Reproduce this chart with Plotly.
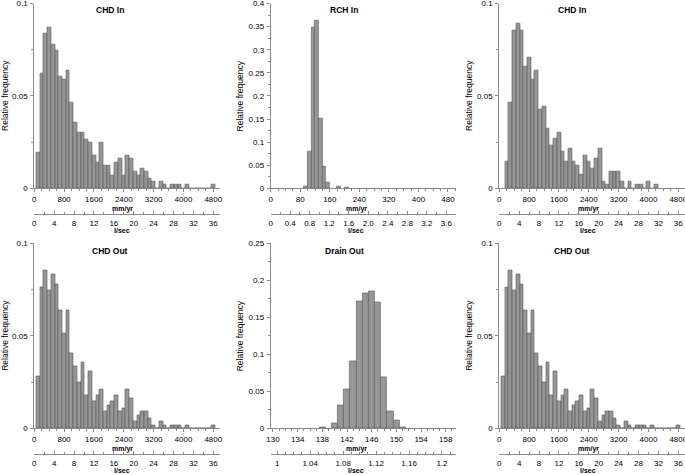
import plotly.graph_objects as go

W, H = 685, 475

# ---------------- DATA ----------------
# CHD In (left panel) : bins of 100 mm/yr, centres 100..4800
chd_in_a_bins = list(range(100, 4900, 100))
chd_in_a_freq = [0.0195, 0.0623, 0.0836, 0.0869, 0.0780, 0.0746, 0.0606, 0.0588, 0.0638, 0.0463,
                 0.0355, 0.0300, 0.0300, 0.0266, 0.0248, 0.0177, 0.0140, 0.0248, 0.0125, 0.0125,
                 0.0071, 0.0140, 0.0160, 0.0071, 0.0178, 0.0160, 0.0089, 0.0071, 0.0107, 0.0089,
                 0.0053, 0.0036, 0.0, 0.0036, 0.0018, 0.0, 0.0018, 0.0018, 0.0018, 0.0,
                 0.0018, 0.0, 0.0, 0.0, 0.0, 0.0, 0.0, 0.0018]

# RCH In : bins of 10 mm/yr
rch_in_bins = [95, 105, 115, 125, 135, 145, 155, 185, 205]
rch_in_freq = [0.0036, 0.0796, 0.348, 0.363, 0.1505, 0.0463, 0.0116, 0.0036, 0.0018]

# CHD In (right panel) : centres 200..4200
chd_in_b_bins = list(range(200, 4300, 100))
chd_in_b_freq = [0.0144, 0.0464, 0.0854, 0.0890, 0.0854, 0.0660, 0.0710, 0.0588, 0.0640, 0.0428,
                 0.0444, 0.0324, 0.0234, 0.0270, 0.0300, 0.0198, 0.0144, 0.0216, 0.0144, 0.0126,
                 0.0072, 0.0180, 0.0144, 0.0108, 0.0162, 0.0216, 0.0036, 0.0018, 0.0090, 0.0090,
                 0.0090, 0.0036, 0.0, 0.0036, 0.0, 0.0018, 0.0018, 0.0, 0.0036, 0.0, 0.0018]

# CHD Out (left and right panels) : centres 100..4800
chd_out_bins = list(range(100, 4900, 100))
chd_out_freq = [0.0283, 0.0764, 0.0854, 0.0747, 0.0834, 0.0780, 0.0639, 0.0513, 0.0639, 0.0407,
                0.0337, 0.0250, 0.0355, 0.0179, 0.0306, 0.0144, 0.0179, 0.0213, 0.0090, 0.0126,
                0.0144, 0.0179, 0.0090, 0.0108, 0.0213, 0.0161, 0.0036, 0.0072, 0.0090, 0.0090,
                0.0054, 0.0018, 0.0, 0.0036, 0.0018, 0.0, 0.0018, 0.0018, 0.0018, 0.0,
                0.0018, 0.0, 0.0, 0.0, 0.0, 0.0, 0.0, 0.0018]

# Drain Out : bins of 1 mm/yr
drain_out_bins = [138, 140, 141, 142, 143, 144, 145, 146, 147, 148, 149, 150, 151]
drain_out_freq = [0.0014, 0.0068, 0.0315, 0.053, 0.0905, 0.172, 0.1824, 0.1847, 0.1707,
                  0.069, 0.0234, 0.0104, 0.0018]

# tick labels
chd_mm_ticks = [0, 800, 1600, 2400, 3200, 4000, 4800]
chd_ls_ticks = [0, 4, 8, 12, 16, 20, 24, 28, 32, 36]
rch_mm_ticks = [0, 80, 160, 240, 320, 400, 480]
rch_ls_ticks = [0, 0.4, 0.8, 1.2, 1.6, 2.0, 2.4, 2.8, 3.2, 3.6]
rch_ls_labels = ["0", "0.4", "0.8", "1.2", "1.6", "2.0", "2.4", "2.8", "3.2", "3.6"]
drain_mm_ticks = [130, 134, 138, 142, 146, 150, 154, 158]
drain_ls_ticks = [1, 1.04, 1.08, 1.12, 1.16, 1.2]
drain_ls_labels = ["1", "1.04", "1.08", "1.12", "1.16", "1.2"]
y_ticks_01 = [0, 0.05, 0.1]
y_ticks_04 = [0, 0.05, 0.1, 0.15, 0.2, 0.25, 0.3, 0.35, 0.4]
y_ticks_025 = [0, 0.05, 0.1, 0.15, 0.2, 0.25]

# ---------------- LAYOUT HELPERS ----------------
def pxx(x):
    return x / W

def pxy(y):
    return 1 - y / H

FONT = "Liberation Sans, Arial, sans-serif"
AXC = "#8a8a8a"
BAR_FILL = "#979797"
BAR_LINE = "#555555"

panels = [
    dict(title="CHD In", bins=chd_in_a_bins, freq=chd_in_a_freq, bw=100,
         x0=34.3, x1=219.5, top=3.5, base=188.3,
         mm_range=[0, 4966], mm_ticks=chd_mm_ticks, mm_minor=200,
         ls_range=[0, 37.25], ls_ticks=chd_ls_ticks, ls_labels=[str(v) for v in chd_ls_ticks], ls_minor=2,
         y_range=[0, 0.1], y_ticks=y_ticks_01, y_minor=0.025,
         tx=110, ytx=5, ux=122),
    dict(title="RCH In", bins=rch_in_bins, freq=rch_in_freq, bw=10,
         x0=270.7, x1=456.3, top=3.5, base=188.3,
         mm_range=[0, 502.5], mm_ticks=rch_mm_ticks, mm_minor=20,
         ls_range=[0, 3.805], ls_ticks=rch_ls_ticks, ls_labels=rch_ls_labels, ls_minor=0.2,
         y_range=[0, 0.4], y_ticks=y_ticks_04, y_minor=0.025,
         tx=344, ytx=239.5, ux=356),
    dict(title="CHD In", bins=chd_in_b_bins, freq=chd_in_b_freq, bw=100,
         x0=499.3, x1=684.5, top=3.5, base=188.3,
         mm_range=[0, 4966], mm_ticks=chd_mm_ticks, mm_minor=200,
         ls_range=[0, 37.25], ls_ticks=chd_ls_ticks, ls_labels=[str(v) for v in chd_ls_ticks], ls_minor=2,
         y_range=[0, 0.1], y_ticks=y_ticks_01, y_minor=0.025,
         tx=572, ytx=469, ux=588),
    dict(title="CHD Out", bins=chd_out_bins, freq=chd_out_freq, bw=100,
         x0=34.3, x1=219.5, top=243.3, base=428.3,
         mm_range=[0, 4966], mm_ticks=chd_mm_ticks, mm_minor=200,
         ls_range=[0, 37.25], ls_ticks=chd_ls_ticks, ls_labels=[str(v) for v in chd_ls_ticks], ls_minor=2,
         y_range=[0, 0.1], y_ticks=y_ticks_01, y_minor=0.025,
         tx=110, ytx=5, ux=122),
    dict(title="Drain Out", bins=drain_out_bins, freq=drain_out_freq, bw=1,
         x0=270.7, x1=456.3, top=243.3, base=428.3,
         mm_range=[129.63, 159.71], mm_ticks=drain_mm_ticks, mm_minor=1,
         ls_range=[0.992, 1.2174], ls_ticks=drain_ls_ticks, ls_labels=drain_ls_labels, ls_minor=0.01,
         y_range=[0, 0.25], y_ticks=y_ticks_025, y_minor=0.025,
         tx=344, ytx=239.5, ux=356),
    dict(title="CHD Out", bins=chd_out_bins, freq=chd_out_freq, bw=100,
         x0=499.3, x1=684.5, top=243.3, base=428.3,
         mm_range=[0, 4966], mm_ticks=chd_mm_ticks, mm_minor=200,
         ls_range=[0, 37.25], ls_ticks=chd_ls_ticks, ls_labels=[str(v) for v in chd_ls_ticks], ls_minor=2,
         y_range=[0, 0.1], y_ticks=y_ticks_01, y_minor=0.025,
         tx=572, ytx=469, ux=588),
]

fig = go.Figure()
layout = dict(
    template="none",
    width=W, height=H, autosize=False,
    margin=dict(l=0, r=0, t=0, b=0, pad=0),
    paper_bgcolor="white", plot_bgcolor="rgba(0,0,0,0)",
    showlegend=False, bargap=0,
    font=dict(family=FONT, size=8, color="black"),
)
annotations = []

tickfont = dict(family=FONT, size=8, color="black")

for i, p in enumerate(panels):
    n = i + 1
    n2 = i + 7
    xa = "x" if n == 1 else f"x{n}"
    ya = "y" if n == 1 else f"y{n}"
    xa2 = f"x{n2}"
    dom_x = [pxx(p["x0"]), pxx(p["x1"])]
    dom_y = [pxy(p["base"]), pxy(p["top"])]

    fig.add_trace(go.Bar(
        x=p["bins"], y=p["freq"], width=p["bw"], xaxis=xa, yaxis=ya,
        marker=dict(color=BAR_FILL, line=dict(color=BAR_LINE, width=0.6)),
        hoverinfo="skip",
    ))
    # invisible trace that carries the l/sec axis
    fig.add_trace(go.Scatter(x=[None], y=[None], xaxis=xa2, yaxis=ya,
                             mode="markers", hoverinfo="skip", showlegend=False))

    layout[f"xaxis{'' if n == 1 else n}"] = dict(
        domain=dom_x, anchor=ya, range=p["mm_range"], autorange=False, automargin=False,
        showgrid=False, zeroline=False, showline=True, linecolor=AXC, linewidth=1,
        ticks="outside", ticklen=3, tickwidth=1, tickcolor=AXC,
        tickmode="array", tickvals=p["mm_ticks"], ticktext=[str(v) for v in p["mm_ticks"]],
        tickfont=tickfont, ticklabelstandoff=0, ticklabeloverflow="allow",
        minor=dict(tickmode="linear", tick0=p["mm_ticks"][0], dtick=p["mm_minor"],
                   ticks="outside", ticklen=2, tickcolor=AXC, showgrid=False),
        fixedrange=True,
    )
    layout[f"xaxis{n2}"] = dict(
        domain=dom_x, anchor="free", position=pxy(p["base"] + 25.3),
        range=p["ls_range"], autorange=False, automargin=False,
        showgrid=False, zeroline=False, showline=True, linecolor=AXC, linewidth=1,
        ticks="inside", ticklen=3, tickwidth=1, tickcolor=AXC,
        tickmode="array", tickvals=p["ls_ticks"], ticktext=p["ls_labels"],
        tickfont=tickfont, ticklabelstandoff=2, ticklabeloverflow="allow",
        minor=dict(tickmode="linear", tick0=p["ls_ticks"][0], dtick=p["ls_minor"],
                   ticks="inside", ticklen=2, tickcolor=AXC, showgrid=False),
        fixedrange=True,
    )
    layout[f"yaxis{'' if n == 1 else n}"] = dict(
        domain=dom_y, anchor=xa, range=p["y_range"], autorange=False, automargin=False,
        showgrid=False, zeroline=False, showline=True, linecolor=AXC, linewidth=1,
        ticks="outside", ticklen=3, tickwidth=1, tickcolor=AXC,
        tickmode="array", tickvals=p["y_ticks"], ticktext=[f"{v:g}" for v in p["y_ticks"]],
        tickfont=tickfont, ticklabelstandoff=1, ticklabeloverflow="allow",
        minor=dict(tickmode="linear", tick0=0, dtick=p["y_minor"],
                   ticks="outside", ticklen=2, tickcolor=AXC, showgrid=False),
        fixedrange=True,
    )

    # panel title
    ty = p["top"] + 6.5 if p["top"] < 10 else p["top"] + 7.7
    annotations.append(dict(text=f"<b>{p['title']}</b>", x=pxx(p["tx"]), y=pxy(ty),
                            xref="paper", yref="paper", showarrow=False,
                            xanchor="center", yanchor="middle",
                            font=dict(family=FONT, size=8.5, color="black")))
    # unit titles
    annotations.append(dict(text="<b>mm/yr</b>", x=pxx(p["ux"]), y=pxy(p["base"] + 20.5),
                            xref="paper", yref="paper", showarrow=False,
                            xanchor="center", yanchor="middle",
                            font=dict(family=FONT, size=7, color="black")))
    annotations.append(dict(text="<b>l/sec</b>", x=pxx(p["ux"]), y=pxy(p["base"] + 42.3),
                            xref="paper", yref="paper", showarrow=False,
                            xanchor="center", yanchor="middle",
                            font=dict(family=FONT, size=7, color="black")))
    # y title
    annotations.append(dict(text="Relative frequency", x=pxx(p["ytx"]), y=pxy((p["top"] + p["base"]) / 2),
                            xref="paper", yref="paper", showarrow=False, textangle=-90,
                            xanchor="center", yanchor="middle",
                            font=dict(family=FONT, size=8.5, color="black")))

layout["annotations"] = annotations
fig.update_layout(**layout)
fig.write_html("out.html", config={"displayModeBar": False},
               post_script="document.body.style.margin='0';document.body.style.padding='0';document.body.style.overflow='hidden';")
